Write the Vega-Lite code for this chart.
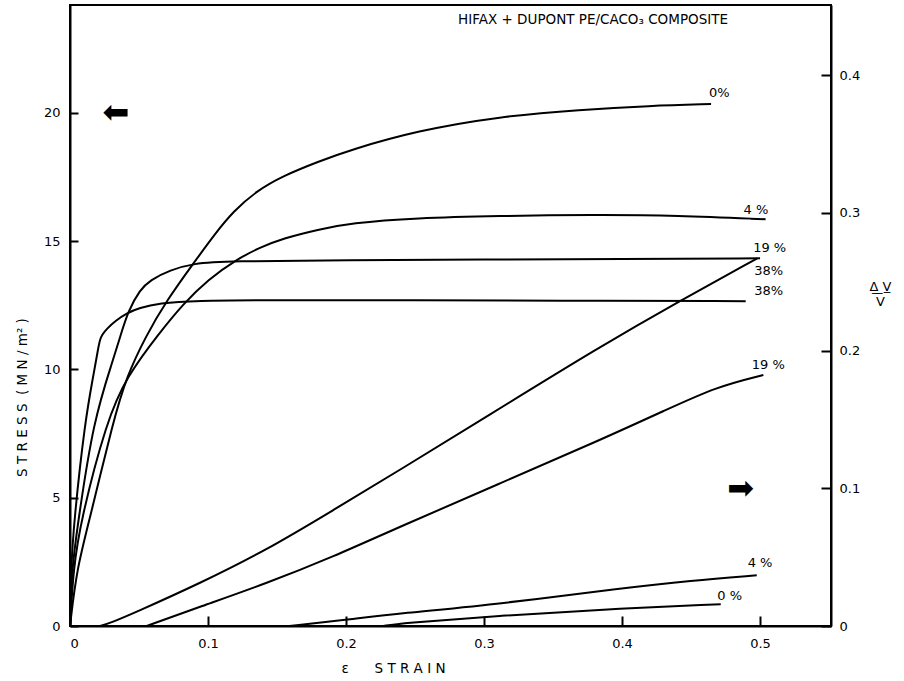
{
  "$schema": "https://vega.github.io/schema/vega-lite/v6.json",
  "width": 761,
  "height": 621,
  "autosize": {"type": "none"},
  "padding": {"left": 70, "top": 5, "right": 73, "bottom": 55},
  "background": "white",
  "config": {
    "view": {"stroke": "black", "strokeWidth": 2},
    "axis": {
      "domainColor": "black", "domainWidth": 2, "tickColor": "black", "tickWidth": 2,
      "labelColor": "black", "titleColor": "black", "labelFont": "DejaVu Sans", "titleFont": "DejaVu Sans",
      "labelFontSize": 13, "titleFontSize": 13, "grid": false, "titleFontWeight": "normal"
    }
  },
  "title": {
    "text": "HIFAX + DUPONT PE/CACO₃ COMPOSITE",
    "frame": "group", "anchor": "end", "offset": -21, "dx": -103,
    "fontSize": 13.5, "fontWeight": "normal", "font": "DejaVu Sans", "color": "black"
  },
  "datasets": {
    "stress": [
      {"series": "38%", "strain": 0, "stress": 0},
      {"series": "38%", "strain": 0.0007, "stress": 2.2},
      {"series": "38%", "strain": 0.0029, "stress": 4.1},
      {"series": "38%", "strain": 0.0109, "stress": 8.0},
      {"series": "38%", "strain": 0.0169, "stress": 9.75},
      {"series": "38%", "strain": 0.0205, "stress": 10.85},
      {"series": "38%", "strain": 0.0217, "stress": 11.15},
      {"series": "38%", "strain": 0.0232, "stress": 11.35},
      {"series": "38%", "strain": 0.027, "stress": 11.6},
      {"series": "38%", "strain": 0.033, "stress": 11.9},
      {"series": "38%", "strain": 0.041, "stress": 12.19},
      {"series": "38%", "strain": 0.05, "stress": 12.4},
      {"series": "38%", "strain": 0.065, "stress": 12.58},
      {"series": "38%", "strain": 0.089, "stress": 12.68},
      {"series": "38%", "strain": 0.15, "stress": 12.7},
      {"series": "38%", "strain": 0.25, "stress": 12.69},
      {"series": "38%", "strain": 0.35, "stress": 12.68},
      {"series": "38%", "strain": 0.4896, "stress": 12.66},
      {"series": "19%", "strain": 0, "stress": 0},
      {"series": "19%", "strain": 0.0012, "stress": 2.2},
      {"series": "19%", "strain": 0.006, "stress": 4.1},
      {"series": "19%", "strain": 0.0169, "stress": 8.0},
      {"series": "19%", "strain": 0.0314, "stress": 10.4},
      {"series": "19%", "strain": 0.0362, "stress": 11.25},
      {"series": "19%", "strain": 0.0423, "stress": 12.3},
      {"series": "19%", "strain": 0.0507, "stress": 13.1},
      {"series": "19%", "strain": 0.058, "stress": 13.48},
      {"series": "19%", "strain": 0.0725, "stress": 13.87},
      {"series": "19%", "strain": 0.0894, "stress": 14.13},
      {"series": "19%", "strain": 0.1135, "stress": 14.22},
      {"series": "19%", "strain": 0.2, "stress": 14.26},
      {"series": "19%", "strain": 0.3, "stress": 14.28},
      {"series": "19%", "strain": 0.4, "stress": 14.3},
      {"series": "19%", "strain": 0.5, "stress": 14.33},
      {"series": "4%", "strain": 0, "stress": 0},
      {"series": "4%", "strain": 0.0024, "stress": 2.2},
      {"series": "4%", "strain": 0.0077, "stress": 4.1},
      {"series": "4%", "strain": 0.0266, "stress": 8.0},
      {"series": "4%", "strain": 0.041, "stress": 9.72},
      {"series": "4%", "strain": 0.0652, "stress": 11.45},
      {"series": "4%", "strain": 0.082, "stress": 12.55},
      {"series": "4%", "strain": 0.1, "stress": 13.5},
      {"series": "4%", "strain": 0.121, "stress": 14.3},
      {"series": "4%", "strain": 0.1377, "stress": 14.75},
      {"series": "4%", "strain": 0.154, "stress": 15.1},
      {"series": "4%", "strain": 0.18, "stress": 15.45},
      {"series": "4%", "strain": 0.203, "stress": 15.7},
      {"series": "4%", "strain": 0.251, "stress": 15.9},
      {"series": "4%", "strain": 0.31, "stress": 15.98},
      {"series": "4%", "strain": 0.38, "stress": 16.03},
      {"series": "4%", "strain": 0.44, "stress": 16.0},
      {"series": "4%", "strain": 0.504, "stress": 15.85},
      {"series": "0%", "strain": 0, "stress": 0},
      {"series": "0%", "strain": 0.0048, "stress": 2.2},
      {"series": "0%", "strain": 0.014, "stress": 4.1},
      {"series": "0%", "strain": 0.0314, "stress": 8.0},
      {"series": "0%", "strain": 0.041, "stress": 9.72},
      {"series": "0%", "strain": 0.055, "stress": 11.3},
      {"series": "0%", "strain": 0.07, "stress": 12.68},
      {"series": "0%", "strain": 0.0894, "stress": 14.13},
      {"series": "0%", "strain": 0.106, "stress": 15.35},
      {"series": "0%", "strain": 0.1183, "stress": 16.15},
      {"series": "0%", "strain": 0.135, "stress": 16.95},
      {"series": "0%", "strain": 0.1546, "stress": 17.55},
      {"series": "0%", "strain": 0.18, "stress": 18.1},
      {"series": "0%", "strain": 0.2029, "stress": 18.55},
      {"series": "0%", "strain": 0.2512, "stress": 19.3},
      {"series": "0%", "strain": 0.3116, "stress": 19.86},
      {"series": "0%", "strain": 0.37, "stress": 20.12},
      {"series": "0%", "strain": 0.42, "stress": 20.27},
      {"series": "0%", "strain": 0.4645, "stress": 20.34}
    ],
    "volume": [
      {"series": "38%", "strain": 0.0217, "dv": 0},
      {"series": "38%", "strain": 0.03, "dv": 0.0025},
      {"series": "38%", "strain": 0.0459, "dv": 0.0092},
      {"series": "38%", "strain": 0.0942, "dv": 0.031},
      {"series": "38%", "strain": 0.1425, "dv": 0.0552},
      {"series": "38%", "strain": 0.1908, "dv": 0.0842},
      {"series": "38%", "strain": 0.239, "dv": 0.1133},
      {"series": "38%", "strain": 0.3, "dv": 0.151},
      {"series": "38%", "strain": 0.384, "dv": 0.2029},
      {"series": "38%", "strain": 0.442, "dv": 0.2362},
      {"series": "38%", "strain": 0.498, "dv": 0.267},
      {"series": "19%", "strain": 0.0556, "dv": 0},
      {"series": "19%", "strain": 0.0942, "dv": 0.014},
      {"series": "19%", "strain": 0.1425, "dv": 0.031},
      {"series": "19%", "strain": 0.1908, "dv": 0.0503},
      {"series": "19%", "strain": 0.239, "dv": 0.0721},
      {"series": "19%", "strain": 0.3116, "dv": 0.1036},
      {"series": "19%", "strain": 0.384, "dv": 0.135},
      {"series": "19%", "strain": 0.432, "dv": 0.157},
      {"series": "19%", "strain": 0.4686, "dv": 0.1738},
      {"series": "19%", "strain": 0.5024, "dv": 0.1823},
      {"series": "4%", "strain": 0.159, "dv": 0},
      {"series": "4%", "strain": 0.2, "dv": 0.0045},
      {"series": "4%", "strain": 0.239, "dv": 0.0092},
      {"series": "4%", "strain": 0.3116, "dv": 0.016},
      {"series": "4%", "strain": 0.4, "dv": 0.0275},
      {"series": "4%", "strain": 0.45, "dv": 0.033},
      {"series": "4%", "strain": 0.4976, "dv": 0.0368},
      {"series": "0%", "strain": 0.227, "dv": 0},
      {"series": "0%", "strain": 0.239, "dv": 0.002},
      {"series": "0%", "strain": 0.3116, "dv": 0.0075},
      {"series": "0%", "strain": 0.384, "dv": 0.012},
      {"series": "0%", "strain": 0.4715, "dv": 0.0158}
    ],
    "stressLabels": [
      {"label": "0%", "strain": 0.463, "stress": 20.77},
      {"label": "4 %", "strain": 0.488, "stress": 16.2},
      {"label": "19 %", "strain": 0.495, "stress": 14.73},
      {"label": "38%", "strain": 0.4957, "stress": 13.06}
    ],
    "volumeLabels": [
      {"label": "38%", "strain": 0.4957, "dv": 0.2578},
      {"label": "19 %", "strain": 0.494, "dv": 0.1895},
      {"label": "4 %", "strain": 0.491, "dv": 0.0458},
      {"label": "0 %", "strain": 0.469, "dv": 0.0218}
    ]
  },
  "layer": [
    {
      "layer": [
        {
          "data": {"name": "stress"},
          "mark": {"type": "line", "color": "black", "strokeWidth": 2, "interpolate": "basis"},
          "encoding": {
            "x": {
              "field": "strain", "type": "quantitative",
              "scale": {"domain": [0, 0.5514], "nice": false, "zero": false},
              "axis": {
                "values": [0, 0.1, 0.2, 0.3, 0.4, 0.5],
                "labelExpr": "datum.value == 0 ? '0' : format(datum.value, '.1f')",
                "tickSize": -10, "labelPadding": 21,
                "title": "ε\u00a0\u00a0\u00a0\u00a0\u00a0\u00a0S\u00a0T\u00a0R\u00a0A\u00a0I\u00a0N", "titleX": 323, "titleY": 42, "titleBaseline": "middle",
                "titleFontSize": 13.5
              }
            },
            "y": {
              "field": "stress", "type": "quantitative",
              "scale": {"domain": [0, 24.2], "nice": false, "zero": false},
              "axis": {
                "values": [0, 5, 10, 15, 20],
                "tickSize": -8, "labelPadding": 18,
                "title": "S\u00a0T\u00a0R\u00a0E\u00a0S\u00a0S\u00a0\u00a0(\u00a0M\u00a0N\u00a0/\u00a0m²\u00a0)", "titleX": -48, "titleY": 392, "titleBaseline": "middle",
                "titleFontSize": 13.5
              }
            },
            "detail": {"field": "series"}
          }
        },
        {
          "data": {"name": "stressLabels"},
          "mark": {"type": "text", "align": "left", "baseline": "middle", "font": "DejaVu Sans", "fontSize": 13, "color": "black"},
          "encoding": {
            "x": {"field": "strain", "type": "quantitative"},
            "y": {"field": "stress", "type": "quantitative"},
            "text": {"field": "label"}
          }
        },
        {
          "data": {"values": [{"strain": 0.0333, "stress": 20, "glyph": "⬅"}]},
          "mark": {"type": "text", "align": "center", "baseline": "middle", "font": "DejaVu Sans", "fontSize": 32, "color": "black"},
          "encoding": {
            "x": {"field": "strain", "type": "quantitative"},
            "y": {"field": "stress", "type": "quantitative"},
            "text": {"field": "glyph"}
          }
        }
      ]
    },
    {
      "layer": [
        {
          "data": {"name": "volume"},
          "mark": {"type": "line", "color": "black", "strokeWidth": 2, "interpolate": "basis"},
          "encoding": {
            "x": {"field": "strain", "type": "quantitative"},
            "y": {
              "field": "dv", "type": "quantitative",
              "scale": {"domain": [0, 0.451], "nice": false, "zero": false},
              "axis": {
                "orient": "right",
                "values": [0, 0.1, 0.2, 0.3, 0.4],
                "labelExpr": "datum.value == 0 ? '0' : format(datum.value, '.1f')",
                "tickSize": -10, "labelPadding": 18,
                "title": ["Δ̲\u00a0̲V̲", "V"], "titleAngle": 0, "titleX": 49, "titleY": 281,
                "titleAlign": "center", "titleBaseline": "middle", "titleLineHeight": 15, "titleFontSize": 13
              }
            },
            "detail": {"field": "series"}
          }
        },
        {
          "data": {"name": "volumeLabels"},
          "mark": {"type": "text", "align": "left", "baseline": "middle", "font": "DejaVu Sans", "fontSize": 13, "color": "black"},
          "encoding": {
            "x": {"field": "strain", "type": "quantitative"},
            "y": {"field": "dv", "type": "quantitative"},
            "text": {"field": "label"}
          }
        },
        {
          "data": {"values": [{"strain": 0.486, "dv": 0.0995, "glyph": "➡"}]},
          "mark": {"type": "text", "align": "center", "baseline": "middle", "font": "DejaVu Sans", "fontSize": 32, "color": "black"},
          "encoding": {
            "x": {"field": "strain", "type": "quantitative"},
            "y": {"field": "dv", "type": "quantitative"},
            "text": {"field": "glyph"}
          }
        }
      ]
    }
  ],
  "resolve": {"scale": {"y": "independent"}}
}
